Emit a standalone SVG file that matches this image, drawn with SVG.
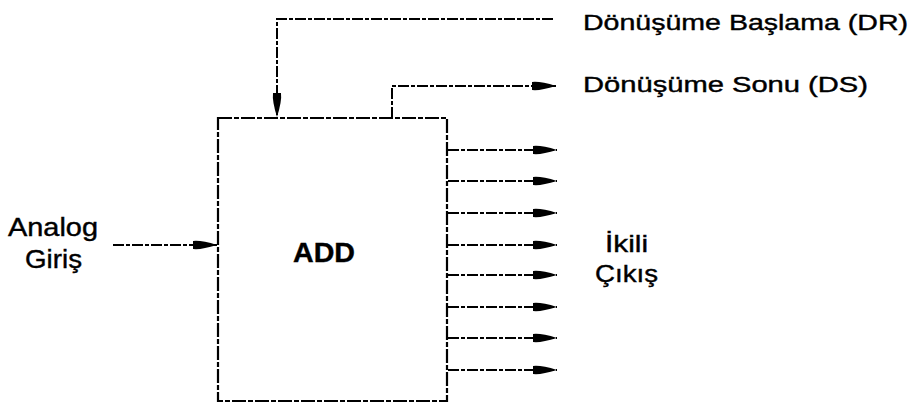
<svg xmlns="http://www.w3.org/2000/svg" width="913" height="405" viewBox="0 0 913 405">
<style>
.ln{fill:none;stroke:#000;stroke-width:2;stroke-dasharray:11 2 4 2}
.bx{fill:none;stroke:#000;stroke-width:2.2;stroke-dasharray:14 2 5 2}
.t{font-family:"Liberation Sans",Arial,sans-serif;fill:#000;stroke:#000;stroke-width:0.4}
</style>
<defs>
<marker id="ah" markerUnits="userSpaceOnUse" markerWidth="26" markerHeight="12" refX="24" refY="5" orient="auto">
<path d="M0,1 Q8,0 24,5 Q8,10 0,9 Z" fill="#000"/>
</marker>
</defs>
<g id="adc">
<rect class="bx" x="218" y="118" width="229" height="283"/>
<text class="t" x="293" y="262" font-size="28" font-weight="bold" textLength="62" lengthAdjust="spacingAndGlyphs">ADD</text>
</g>
<g id="label-dr"><text class="t" x="583" y="30" font-size="22" textLength="325" lengthAdjust="spacingAndGlyphs">Dönüşüme Başlama (DR)</text></g>
<g id="label-ds"><text class="t" x="583" y="92" font-size="22" textLength="285" lengthAdjust="spacingAndGlyphs">Dönüşüme Sonu (DS)</text></g>
<g id="label-analog">
<text class="t" x="8" y="236" font-size="25" textLength="90" lengthAdjust="spacingAndGlyphs">Analog</text>
<text class="t" x="25" y="268" font-size="26" textLength="57" lengthAdjust="spacingAndGlyphs">Giriş</text>
</g>
<g id="label-ikili">
<text class="t" x="605" y="252" font-size="24" textLength="43" lengthAdjust="spacingAndGlyphs">İkili</text>
<text class="t" x="595" y="282" font-size="24" textLength="63" lengthAdjust="spacingAndGlyphs">Çıkış</text>
</g>
<g id="connectors">
<path class="ln" d="M553,19 H277 V117" marker-end="url(#ah)"/>
<path class="ln" d="M392,118 V86 H556" marker-end="url(#ah)"/>
<path class="ln" d="M113,245 H217" marker-end="url(#ah)"/>
<path class="ln" d="M448,150 H557" marker-end="url(#ah)"/>
<path class="ln" d="M448,181 H557" marker-end="url(#ah)"/>
<path class="ln" d="M448,213 H557" marker-end="url(#ah)"/>
<path class="ln" d="M448,245 H557" marker-end="url(#ah)"/>
<path class="ln" d="M448,275 H557" marker-end="url(#ah)"/>
<path class="ln" d="M448,307 H557" marker-end="url(#ah)"/>
<path class="ln" d="M448,338 H557" marker-end="url(#ah)"/>
<path class="ln" d="M448,370 H557" marker-end="url(#ah)"/>
</g>
</svg>
